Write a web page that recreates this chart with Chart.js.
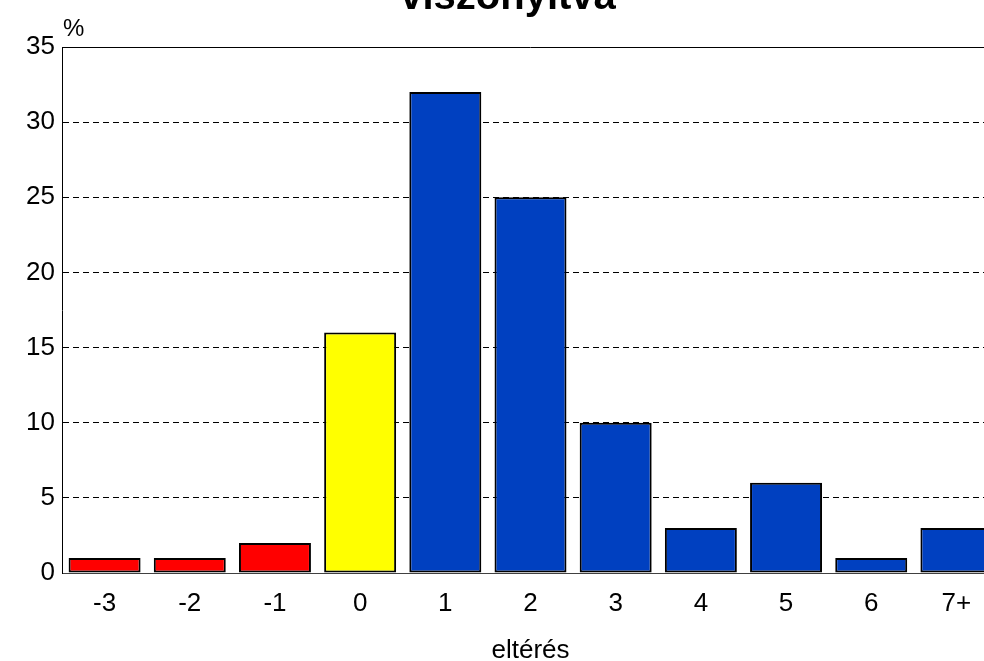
<!DOCTYPE html>
<html>
<head>
<meta charset="utf-8">
<script src="https://cdn.jsdelivr.net/npm/chart.js@4"></script>
<style>
html,body{margin:0;padding:0;background:#fff;overflow:hidden;width:984px;height:661px;}
#wrap{position:absolute;left:0;top:-30px;width:1016px;height:698px;}
</style>
</head>
<body>
<div id="wrap"><canvas id="c" width="1016" height="698"></canvas></div>
<script>
const categories = ['-3','-2','-1','0','1','2','3','4','5','6','7+'];
const values = [1,1,2,16,32,25,10,3,6,1,3];
const barColors = ['#FF0000','#FF0000','#FF0000','#FFFF00','#0040C0','#0040C0','#0040C0','#0040C0','#0040C0','#0040C0','#0040C0'];
const yTicks = [0,5,10,15,20,25,30,35];
const titleText = 'viszonyítva';
const yUnit = '%';
const xTitle = 'eltérés';

const FONT = 'Liberation Sans, Arial, sans-serif';
const TOP_OFF = 30;

const overlay = {
  id: 'overlay',
  afterDraw(chart) {
    const {ctx, chartArea: a} = chart;
    ctx.save();
    ctx.strokeStyle = '#000';
    ctx.lineWidth = 1;
    ctx.beginPath();
    ctx.moveTo(a.left, Math.round(a.top) + 0.5);
    ctx.lineTo(a.right, Math.round(a.top) + 0.5);
    ctx.stroke();
    ctx.fillStyle = '#000';
    ctx.font = 'bold 40px ' + FONT;
    ctx.textAlign = 'center';
    ctx.textBaseline = 'alphabetic';
    ctx.fillText(titleText, 508, TOP_OFF + 9);
    ctx.font = '24px ' + FONT;
    ctx.textAlign = 'left';
    ctx.textBaseline = 'middle';
    ctx.fillText(yUnit, 63, TOP_OFF + 29);
    ctx.restore();
  }
};

new Chart(document.getElementById('c'), {
  type: 'bar',
  data: {
    labels: categories,
    datasets: [{
      data: values,
      backgroundColor: barColors,
      borderColor: '#000',
      borderWidth: 2,
      borderSkipped: false,
      categoryPercentage: 1,
      barPercentage: 0.845
    }]
  },
  options: {
    responsive: false,
    animation: false,
    devicePixelRatio: 1,
    layout: {padding: {left: 0, right: 17, top: TOP_OFF + 47, bottom: 0}},
    plugins: {legend: {display: false}, tooltip: {enabled: false}, title: {display: false}},
    scales: {
      x: {
        grid: {display: false, drawTicks: false},
        border: {display: true, color: '#404040', width: 1},
        ticks: {color: '#000', font: {family: FONT, size: 26}, padding: 15, maxRotation: 0},
        title: {display: true, text: xTitle, color: '#000', font: {family: FONT, size: 26}, padding: {top: 0, bottom: 2}},
        afterFit(s) { s.height = 95; }
      },
      y: {
        min: 0, max: 35,
        afterBuildTicks(s) { s.ticks = yTicks.map(v => ({value: v})); },
        grid: {
          drawTicks: false,
          color: ctx => (ctx.tick && (ctx.tick.value === 0 || ctx.tick.value === 35)) ? 'rgba(0,0,0,0)' : '#000',
          lineWidth: 1
        },
        border: {display: true, color: '#000', width: 1, dash: [6, 4]},
        ticks: {color: '#000', font: {family: FONT, size: 26}, padding: 7},
        afterFit(s) { s.width = 62; }
      }
    }
  },
  plugins: [overlay]
});
</script>
</body>
</html>
